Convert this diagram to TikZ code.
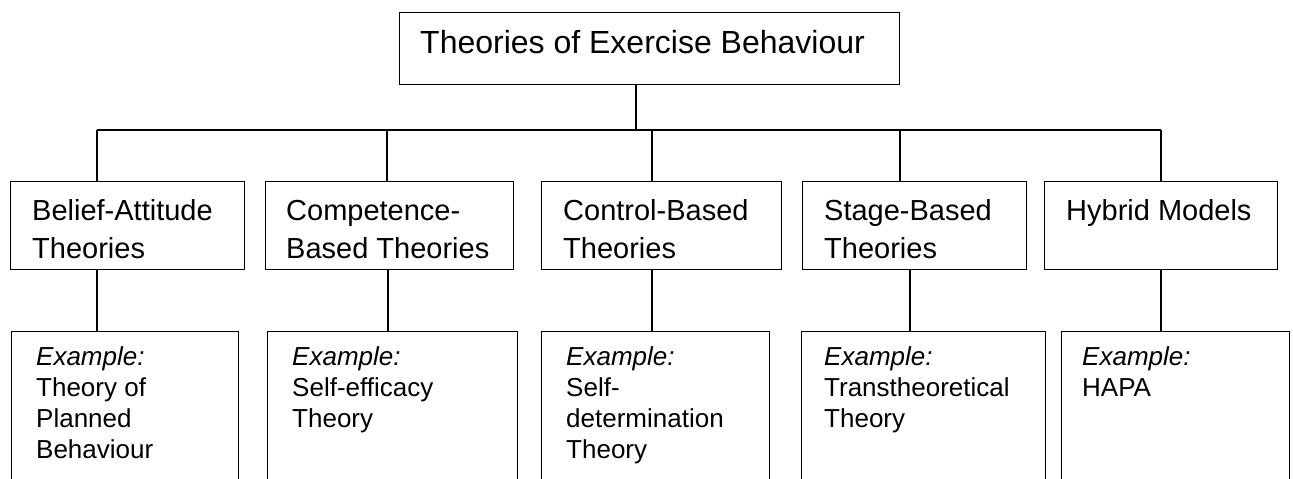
\documentclass[tikz,border=0pt]{standalone}
\usepackage{fontspec}
\setmainfont{Liberation Sans}
\usetikzlibrary{calc}
% stacked lines keep their exact baseline pitch
\lineskiplimit=-100pt
\begin{document}
\begin{tikzpicture}[x=1pt,y=-1pt,
  frame/.style={draw, line width=1.3pt, inner sep=0pt, anchor=north west},
  link/.style={line width=1.3pt},
  txt/.style={inner sep=0pt, anchor=base west},
  titletxt/.style={txt, font=\fontsize{32}{38}\selectfont},
  headtxt/.style={txt, font=\fontsize{29}{37.5}\selectfont},
  exampletxt/.style={txt, font=\fontsize{26}{31}\selectfont}
]
\useasboundingbox (0,0) rectangle (1293,479);
\clip (0,0) rectangle (1293,479);

% root
\node[frame, minimum width=500pt, minimum height=72pt] (top) at (399,12) {};
\node[titletxt] (toptxt) at ($(top.north west)+(21,41)$) {Theories of Exercise Behaviour};

% theory families
\node[frame, minimum width=234pt, minimum height=88pt] (b1) at (10,181) {};
\node[frame, minimum width=248pt, minimum height=88pt] (b2) at (265,181) {};
\node[frame, minimum width=240pt, minimum height=88pt] (b3) at (541,181) {};
\node[frame, minimum width=224pt, minimum height=88pt] (b4) at (802,181) {};
\node[frame, minimum width=233pt, minimum height=88pt] (b5) at (1044,181) {};

\node[headtxt] (b1t) at ($(b1.north west)+(22,39.5)$) {\vtop{\hbox{Belief-Attitude}\hbox{Theories}}};
\node[headtxt] (b2t) at ($(b2.north west)+(21,39.5)$) {\vtop{\hbox{Competence-}\hbox{Based Theories}}};
\node[headtxt] (b3t) at ($(b3.north west)+(22,39.5)$) {\vtop{\hbox{Control-Based}\hbox{Theories}}};
\node[headtxt] (b4t) at ($(b4.north west)+(22,39.5)$) {\vtop{\hbox{Stage-Based}\hbox{Theories}}};
\node[headtxt] (b5t) at ($(b5.north west)+(22,39.5)$) {\vtop{\hbox{Hybrid Models}}};

% examples
\node[frame, minimum width=227pt, minimum height=200pt] (c1) at (11,331) {};
\node[frame, minimum width=250pt, minimum height=200pt] (c2) at (267,331) {};
\node[frame, minimum width=228pt, minimum height=200pt] (c3) at (541,331) {};
\node[frame, minimum width=244pt, minimum height=200pt] (c4) at (801,331) {};
\node[frame, minimum width=228pt, minimum height=200pt] (c5) at (1061,331) {};

\node[exampletxt] (c1t) at ($(c1.north west)+(25,34)$) {\vtop{\hbox{\itshape Example:}\hbox{Theory of}\hbox{Planned}\hbox{Behaviour}}};
\node[exampletxt] (c2t) at ($(c2.north west)+(25,34)$) {\vtop{\hbox{\itshape Example:}\hbox{Self-efficacy}\hbox{Theory}}};
\node[exampletxt] (c3t) at ($(c3.north west)+(25,34)$) {\vtop{\hbox{\itshape Example:}\hbox{Self-}\hbox{determination}\hbox{Theory}}};
\node[exampletxt] (c4t) at ($(c4.north west)+(23,34)$) {\vtop{\hbox{\itshape Example:}\hbox{Transtheoretical}\hbox{Theory}}};
\node[exampletxt] (c5t) at ($(c5.north west)+(21,34)$) {\vtop{\hbox{\itshape Example:}\hbox{HAPA}}};

% junctions on the distribution bar
\coordinate (j0) at (636,130);
\coordinate (j1) at (97,130);
\coordinate (j2) at (387,130);
\coordinate (j3) at (652,130);
\coordinate (j4) at (900,130);
\coordinate (j5) at (1161,130);
% drop points below the families
\coordinate (k1) at (97,300);
\coordinate (k2) at (388,300);
\coordinate (k3) at (652,300);
\coordinate (k4) at (910,300);
\coordinate (k5) at (1161,300);

\draw[link] (top.south -| j0) -- (j0);
\draw[link] (j1) -- (j5);
\foreach \i in {1,...,5}{
  \draw[link] (j\i) -- (j\i |- b\i.north);
  \draw[link] (b\i.south -| k\i) -- (k\i |- c\i.north);
}
\end{tikzpicture}
\end{document}
